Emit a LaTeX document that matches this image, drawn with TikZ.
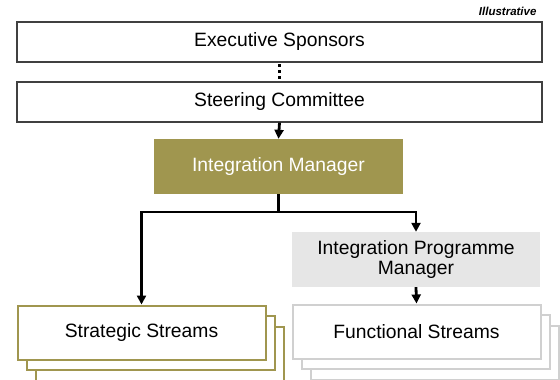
\documentclass[tikz,border=0pt]{standalone}
\usepackage{fontspec}
\setmainfont{Liberation Sans}
\usetikzlibrary{arrows.meta}
\definecolor{olive}{HTML}{A0964F}
\definecolor{paleGrey}{HTML}{E6E6E6}
\definecolor{frameGrey}{HTML}{D0D0D0}
\definecolor{edgeGrey}{HTML}{404040}
\tikzset{
  lbl/.style={font=\fontsize{19.3}{21.5}\selectfont, align=center},
  plainbox/.style={draw=edgeGrey, line width=1.2pt, fill=white, minimum width=525pt, minimum height=40pt, lbl},
  leadbox/.style={fill=olive, text=white, minimum width=249pt, minimum height=55pt, lbl},
  progbox/.style={fill=paleGrey, minimum width=248pt, minimum height=55pt, lbl},
  stackbox/.style={fill=white, line width=2pt, minimum width=248pt, minimum height=54pt, lbl},
  link/.style={line width=2.8pt, -{Triangle[width=9pt,length=9pt]}},
  bar/.style={line width=2.8pt}
}
\begin{document}
\begin{tikzpicture}[x=1pt,y=-1pt]
\useasboundingbox (0,0) rectangle (560,380);
\node[font=\fontsize{11.5}{13}\selectfont\bfseries\itshape, anchor=base east] (tag) at (540,16) {Illustrative};
\node[plainbox] (exec) at (279.5,42) {Executive Sponsors};
\node[plainbox] (steer) at (279.5,102) {Steering Committee};
\node[leadbox] (im) at (278.5,166.5) {Integration Manager};
\node[progbox] (ipm) at (416,259.5) {Integration Programme\\[-2pt]Manager};
% strategic streams: three stacked frames
\node[stackbox, draw=olive] (ss3) at (159.5,354) {};
\node[stackbox, draw=olive] (ss2) at (150.5,343) {};
\node[stackbox, draw=olive] (ss) at (141.5,332.5) {Strategic Streams};
% functional streams: three stacked frames
\node[stackbox, draw=frameGrey] (fs3) at (434.5,353) {};
\node[stackbox, draw=frameGrey] (fs2) at (425.5,342) {};
\node[stackbox, draw=frameGrey] (fs) at (416.5,331.5) {Functional Streams};
% reporting lines
\draw[line width=3pt, dash pattern=on 3pt off 3pt] (exec.south) ++(0,1.5) -- (steer.north);
\draw[link] (steer.south) -- (im.north);
\coordinate (split) at (im.south |- 0,212);
\draw[bar] (im.south) -- (split);
\draw[link] (split -| ss.north) -- (ss.north);
\draw[link] (split -| ipm.north) -- (ipm.north);
\draw[bar] (split -| ss.north) ++(-1.4,0) -- ([xshift=1.4pt]split -| ipm.north);
\draw[link] (ipm.south) -- (fs.north);
\end{tikzpicture}
\end{document}
